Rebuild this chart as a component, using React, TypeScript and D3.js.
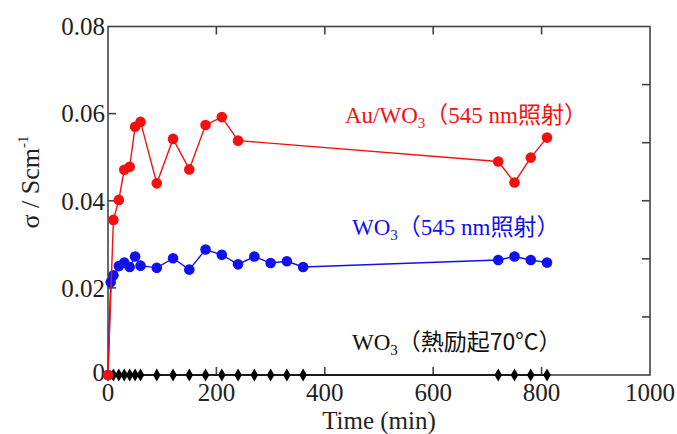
import React from "react";
import * as d3 from "d3";

// Au/WO3 under 545 nm light
const timeAu = [0, 10, 20, 30, 40, 50, 60, 90, 120, 150, 180, 210, 240, 720, 750, 780, 810];
const sigmaAu = [0, 0.0356, 0.0402, 0.0471, 0.0478, 0.057, 0.0581, 0.044, 0.0542, 0.0472, 0.0574, 0.0592, 0.0538, 0.049, 0.0442, 0.0499, 0.0545];

// WO3 under 545 nm light
const timeWO3 = [0, 5, 10, 20, 30, 40, 50, 60, 90, 120, 150, 180, 210, 240, 270, 300, 330, 360, 720, 750, 780, 810];
const sigmaWO3 = [0, 0.0213, 0.0229, 0.025, 0.0258, 0.0248, 0.0272, 0.0251, 0.0246, 0.0268, 0.0242, 0.0288, 0.0276, 0.0254, 0.0272, 0.0257, 0.0261, 0.0248, 0.0264, 0.0272, 0.0264, 0.0258];

// WO3 heated to 70 C
const timeHeat = [0, 10, 20, 30, 40, 50, 60, 90, 120, 150, 180, 210, 240, 270, 300, 330, 360, 720, 750, 780, 810];
const sigmaHeat = [0, 0, 0, 0, 0, 0, 0, 0, 0, 0, 0, 0, 0, 0, 0, 0, 0, 0, 0, 0, 0];

const xTicks = [0, 200, 400, 600, 800, 1000];
const yTicks = [0, 0.02, 0.04, 0.06, 0.08];
const rightTickCount = 6;

const W = 677;
const H = 434;
const serif = "'Liberation Serif', 'Times New Roman', serif";
const cjk = "'Noto Sans CJK JP', sans-serif";
const axisColor = "#444";

const x = d3.scaleLinear().domain([0, 1000]).range([108, 650]);
const y = d3.scaleLinear().domain([0, 0.08]).range([375, 26.5]);

const zip = (t: number[], s: number[]) => t.map((d, i) => [d, s[i]] as [number, number]);

const line = d3
    .line<[number, number]>()
    .x(d => x(d[0]))
    .y(d => y(d[1]));

const diamond = d3.symbol().type(d3.symbolDiamond).size(50)();

const Series = ({ data, color, r, marker }: { data: [number, number][]; color: string; r: number; marker: string }) => (
    <g>
        <path d={line(data) ?? ""} fill="none" stroke={color} strokeWidth={1.4} />
        {data.map((d, i) =>
            marker === "circle" ? (
                <circle key={i} cx={x(d[0])} cy={y(d[1])} r={r} fill={color} />
            ) : (
                <path key={i} d={diamond ?? ""} transform={`translate(${x(d[0])},${y(d[1])})`} fill={color} />
            )
        )}
    </g>
);

const App = () => {
    const [x0, x1] = x.range();
    const [y0, y1] = y.range();
    const tickLen = 8;
    const rightTicks = d3.range(1, rightTickCount).map(k => y0 + ((y1 - y0) * k) / rightTickCount);
    const fmt = (d: number) => (d === 0 ? "0" : d3.format(".2f")(d));

    return (
        <svg width={W} height={H} style={{ position: "absolute", left: 0, top: 0, background: "#fff" }}>
            {/* frame */}
            <rect x={x0} y={y1} width={x1 - x0} height={y0 - y1} fill="none" stroke={axisColor} strokeWidth={1.6} />
            {xTicks.slice(1, -1).map(t => (
                <g key={"xt" + t} stroke={axisColor} strokeWidth={1.6}>
                    <line x1={x(t)} x2={x(t)} y1={y0} y2={y0 - tickLen} />
                    <line x1={x(t)} x2={x(t)} y1={y1} y2={y1 + tickLen} />
                </g>
            ))}
            {yTicks.slice(1, -1).map(t => (
                <line key={"yt" + t} x1={x0} x2={x0 + tickLen} y1={y(t)} y2={y(t)} stroke={axisColor} strokeWidth={1.6} />
            ))}
            {rightTicks.map((p, i) => (
                <line key={"rt" + i} x1={x1} x2={x1 - tickLen} y1={p} y2={p} stroke={axisColor} strokeWidth={1.6} />
            ))}

            {/* tick labels */}
            <g fontFamily={serif} fontSize={25} fill="#222">
                {xTicks.map(t => (
                    <text key={"xl" + t} x={x(t)} y={401} textAnchor="middle">
                        {t}
                    </text>
                ))}
                {yTicks.map(t => (
                    <text key={"yl" + t} x={x0 - 3} y={y(t) - (t === 0 ? 3 : 0)} dy="0.35em" textAnchor="end">
                        {fmt(t)}
                    </text>
                ))}
            </g>

            {/* axis titles */}
            <text x={379} y={429} textAnchor="middle" fontFamily={serif} fontSize={25} fill="#222">
                Time (min)
            </text>
            <text transform="translate(39,182) rotate(-90)" textAnchor="middle" fontFamily={serif} fontSize={26} fill="#222">
                σ / Scm
                <tspan fontSize={15} dy={-11}>
                    -1
                </tspan>
            </text>

            {/* series */}
            <Series data={zip(timeHeat, sigmaHeat)} color="#000" r={3.5} marker="diamond" />
            <Series data={zip(timeWO3, sigmaWO3)} color="#1010f0" r={5.3} marker="circle" />
            <Series data={zip(timeAu, sigmaAu)} color="#f51010" r={5.3} marker="circle" />

            {/* series labels */}
            <text x={345} y={123} fontFamily={serif} fontSize={23} fill="#f51010">
                Au/WO
                <tspan fontSize={15} dy={5}>3</tspan>
                <tspan dy={-5} fontFamily={cjk}>（</tspan>
                <tspan fontFamily={serif}>545 nm</tspan>
                <tspan fontFamily={cjk}>照射）</tspan>
            </text>
            <text x={352} y={235} fontFamily={serif} fontSize={23} fill="#1010f0">
                WO
                <tspan fontSize={15} dy={5}>3</tspan>
                <tspan dy={-5} fontFamily={cjk}>（</tspan>
                <tspan fontFamily={serif}>545 nm</tspan>
                <tspan fontFamily={cjk}>照射）</tspan>
            </text>
            <text x={352} y={350} fontFamily={serif} fontSize={23} fill="#111">
                WO
                <tspan fontSize={15} dy={5}>3</tspan>
                <tspan dy={-5} fontFamily={cjk}>（熱励起70°C）</tspan>
            </text>
        </svg>
    );
};

export default App;
